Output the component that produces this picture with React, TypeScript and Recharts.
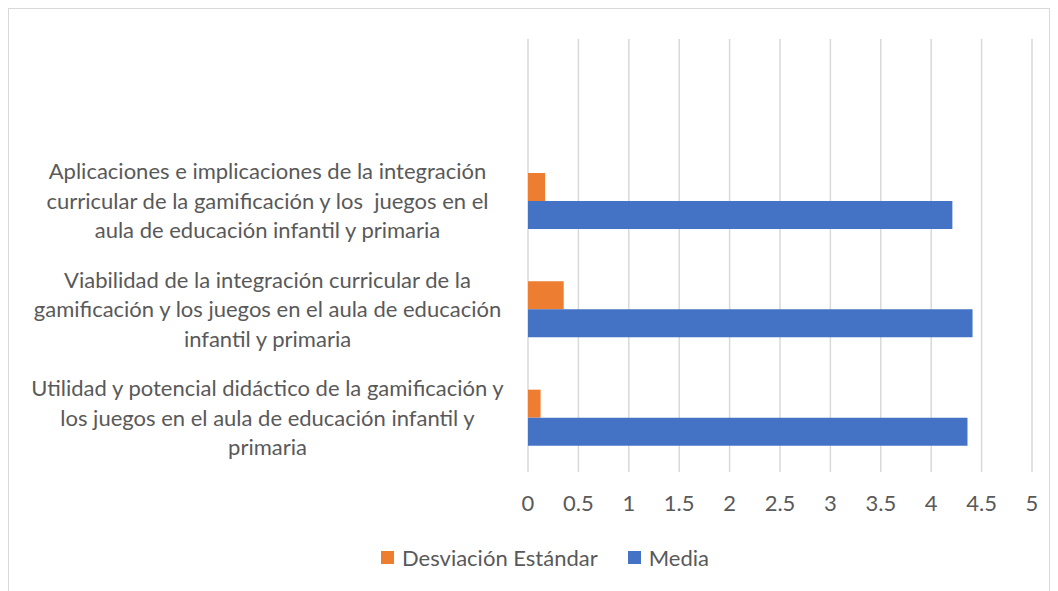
import React from "react";
import { BarChart, Bar, XAxis, YAxis, CartesianGrid, Legend } from "recharts";

const categories: string[] = [
  "Aplicaciones e implicaciones de la integración\ncurricular de la gamificación y los  juegos en el\naula de educación infantil y primaria",
  "Viabilidad de la integración curricular de la\ngamificación y los juegos en el aula de educación\ninfantil y primaria",
  "Utilidad y potencial didáctico de la gamificación y\nlos juegos en el aula de educación infantil y\nprimaria",
];
const desviacion: number[] = [0.17, 0.354, 0.125];
const media: number[] = [4.21, 4.41, 4.36];
const xTicks: number[] = [0, 0.5, 1, 1.5, 2, 2.5, 3, 3.5, 4, 4.5, 5];
const seriesNames = { sd: "Desviación Estándar", media: "Media" };

const data = categories.map((name, i) => ({
  name,
  sd: desviacion[i],
  media: media[i],
}));

const FONT = "Lato, 'Open Sans', sans-serif";
const FS = 22;
const TEXT = "#595959";
const ORANGE = "#ED7D31";
const BLUE = "#4472C4";
const LABEL_X = 258.5;

const YTick = (props: any) => {
  const { y, payload } = props;
  const lines: string[] = String(payload.value).split("\n");
  const lh = 29.5;
  const start = y - ((lines.length - 1) * lh) / 2;
  return (
    <text
      textAnchor="middle"
      fill={TEXT}
      fontSize={FS}
      fontFamily={FONT}
      style={{ whiteSpace: "pre" }}
    >
      {lines.map((l, i) => (
        <tspan key={i} x={LABEL_X} y={start + i * lh} dy="0.35em">
          {l}
        </tspan>
      ))}
    </text>
  );
};

const LegendContent = () => (
  <div
    style={{
      height: 40,
      display: "flex",
      alignItems: "center",
      paddingLeft: 372,
      fontFamily: FONT,
      fontSize: FS,
      color: TEXT,
      whiteSpace: "nowrap",
    }}
  >
    <span style={{ width: 13, height: 13, background: ORANGE, display: "inline-block", marginRight: 8 }} />
    <span>{seriesNames.sd}</span>
    <span style={{ width: 13, height: 13, background: BLUE, display: "inline-block", marginLeft: 30, marginRight: 8 }} />
    <span>{seriesNames.media}</span>
  </div>
);

export default function App() {
  return (
    <div style={{ width: 1040, height: 590, border: "1px solid #d9d9d9", background: "#fff" }}>
      <BarChart
        width={1040}
        height={590}
        data={data}
        layout="vertical"
        margin={{ top: 30, right: 17, bottom: 22, left: 0 }}
        barGap={0}
        barSize={28}
      >
        <CartesianGrid horizontal={false} stroke="#d9d9d9" strokeWidth={1.5} />
        <XAxis
          type="number"
          domain={[0, 5]}
          ticks={xTicks}
          axisLine={false}
          tickLine={false}
          tickMargin={17}
          height={65}
          interval={0}
          tick={{ fill: TEXT, fontSize: FS, fontFamily: FONT }}
        />
        <YAxis
          type="category"
          dataKey="name"
          width={519}
          axisLine={false}
          tickLine={false}
          padding={{ top: 108, bottom: 0 }}
          tick={<YTick />}
          interval={0}
        />
        <Legend verticalAlign="bottom" content={<LegendContent />} />
        <Bar dataKey="sd" name={seriesNames.sd} fill={ORANGE} isAnimationActive={false} />
        <Bar dataKey="media" name={seriesNames.media} fill={BLUE} isAnimationActive={false} />
      </BarChart>
    </div>
  );
}
